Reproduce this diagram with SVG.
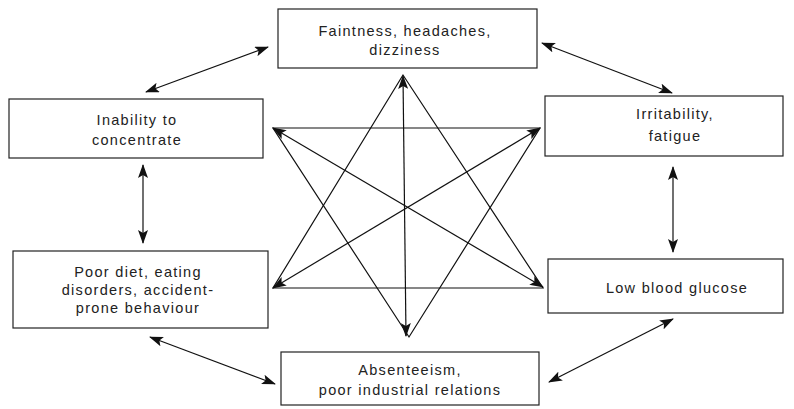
<svg xmlns="http://www.w3.org/2000/svg" width="794" height="409" viewBox="0 0 794 409">
<style>
.box{fill:#fff;stroke:#222;stroke-width:1.2}
.t{font-family:"Liberation Sans",Arial,sans-serif;font-size:14.5px;fill:#222;text-anchor:middle;letter-spacing:1.3px}
.ln{stroke:#111;stroke-width:1.2;fill:none}
.ar{stroke:#111;stroke-width:1.2;fill:none;marker-start:url(#ah);marker-end:url(#ah)}
</style>
<defs>
<marker id="ah" viewBox="0 0 14 10" refX="13" refY="5" markerWidth="14" markerHeight="10" markerUnits="userSpaceOnUse" orient="auto-start-reverse">
<path d="M0,0 L14,5 L0,10 L3,5 Z" fill="#111"/>
</marker>
</defs>
<rect width="794" height="409" fill="#fff"/>
<g id="connectors">
<polygon class="ln" points="403,75 273,288 543,288"/>
<polygon class="ln" points="273,128 540,128 409,337"/>
<line class="ar" x1="406" y1="336" x2="403" y2="76"/>
<line class="ar" x1="273" y1="128" x2="543" y2="287"/>
<line class="ar" x1="540" y1="128" x2="273" y2="288"/>
<line class="ar" x1="146" y1="92" x2="268" y2="47"/>
<line class="ar" x1="542" y1="43" x2="672" y2="93"/>
<line class="ar" x1="143" y1="165" x2="143" y2="243"/>
<line class="ar" x1="673" y1="167" x2="673" y2="252"/>
<line class="ar" x1="150" y1="337" x2="275" y2="384"/>
<line class="ar" x1="549" y1="382" x2="673" y2="319"/>
</g>
<g id="n-faintness">
<rect class="box" x="278" y="9" width="259" height="59"/>
<text class="t" x="405" y="36">Faintness, headaches,</text>
<text class="t" x="405" y="55">dizziness</text>
</g>
<g id="n-inability">
<rect class="box" x="9" y="99" width="254" height="59"/>
<text class="t" x="137" y="125">Inability to</text>
<text class="t" x="137" y="145">concentrate</text>
</g>
<g id="n-irritability">
<rect class="box" x="545" y="96" width="238" height="60"/>
<text class="t" x="675" y="119">Irritability,</text>
<text class="t" x="675" y="141">fatigue</text>
</g>
<g id="n-poordiet">
<rect class="box" x="13" y="251" width="255" height="77"/>
<text class="t" x="138" y="277">Poor diet, eating</text>
<text class="t" x="138" y="295">disorders, accident-</text>
<text class="t" x="138" y="313">prone behaviour</text>
</g>
<g id="n-lowglucose">
<rect class="box" x="548" y="259" width="235" height="54"/>
<text class="t" x="677" y="293">Low blood glucose</text>
</g>
<g id="n-absenteeism">
<rect class="box" x="281" y="352" width="258" height="53"/>
<text class="t" x="410" y="375">Absenteeism,</text>
<text class="t" x="410" y="395">poor industrial relations</text>
</g>
</svg>
